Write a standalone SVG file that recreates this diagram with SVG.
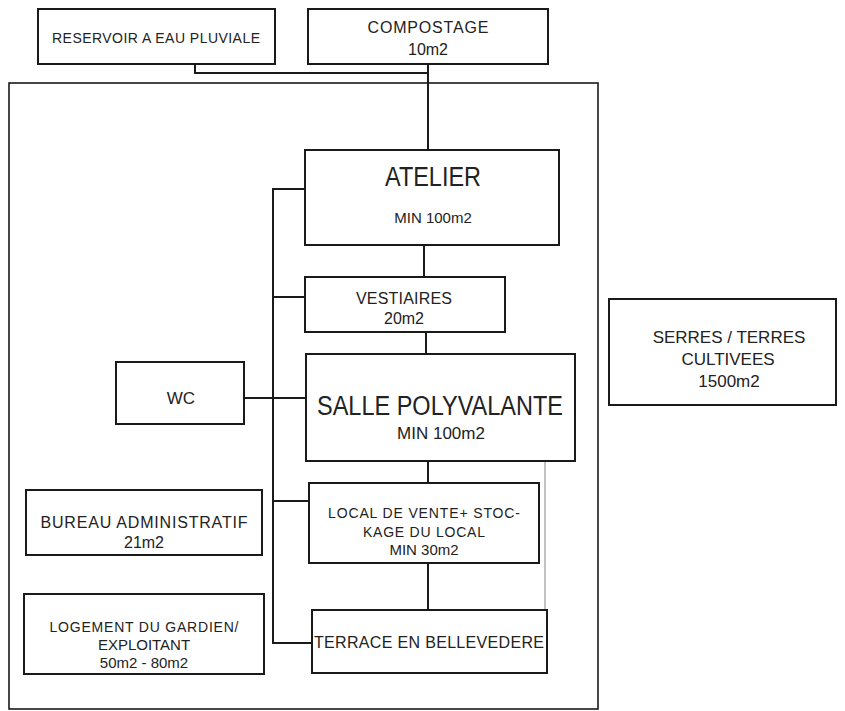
<svg xmlns="http://www.w3.org/2000/svg" width="845" height="711" viewBox="0 0 845 711">
<style>
.box{fill:#fff;stroke:#1a1a1a;stroke-width:2}
.outer{fill:none;stroke:#1a1a1a;stroke-width:1.6}
.ln{fill:none;stroke:#1a1a1a;stroke-width:2}
.gray{fill:none;stroke:#999;stroke-width:1.2}
text{font-family:"Liberation Sans",Arial,sans-serif;fill:#222;text-anchor:middle}
.s{font-size:14px}
.t{font-size:15px}
.m{font-size:16px}
.g{font-size:17px}
.l{font-size:27px}
</style>
<rect x="0" y="0" width="845" height="711" fill="#fff"/>
<rect class="outer" x="9" y="83" width="589" height="626"/>
<g id="connectors">
<polyline class="ln" points="195,64 195,73 428,73"/>
<line class="ln" x1="428" y1="64" x2="428" y2="150"/>
<polyline class="ln" points="305,189 273,189 273,643 312,643"/>
<line class="ln" x1="273" y1="297" x2="305" y2="297"/>
<line class="ln" x1="244" y1="398" x2="306" y2="398"/>
<line class="ln" x1="273" y1="501" x2="309" y2="501"/>
<line class="ln" x1="424" y1="245" x2="424" y2="277"/>
<line class="ln" x1="426" y1="332" x2="426" y2="354"/>
<line class="ln" x1="428" y1="461" x2="428" y2="483"/>
<line class="ln" x1="428" y1="563" x2="428" y2="610"/>
<line class="gray" x1="545" y1="461" x2="545" y2="610"/>
</g>
<g id="reservoir">
<rect class="box" x="38" y="9" width="237" height="55"/>
<text class="s" x="156" y="43" textLength="208">RESERVOIR A EAU PLUVIALE</text>
</g>
<g id="compostage">
<rect class="box" x="308" y="9" width="240" height="55"/>
<text class="m" x="428" y="33" textLength="121">COMPOSTAGE</text>
<text class="m" x="428" y="55">10m2</text>
</g>
<g id="atelier">
<rect class="box" x="305" y="150" width="254" height="95"/>
<text class="l" x="433" y="186" textLength="96" lengthAdjust="spacingAndGlyphs">ATELIER</text>
<text class="t" x="433" y="223">MIN 100m2</text>
</g>
<g id="vestiaires">
<rect class="box" x="305" y="277" width="200" height="55"/>
<text class="m" x="404" y="304" textLength="96">VESTIAIRES</text>
<text class="m" x="404" y="324">20m2</text>
</g>
<g id="wc">
<rect class="box" x="116" y="362" width="128" height="62"/>
<text class="g" x="181" y="404">WC</text>
</g>
<g id="salle">
<rect class="box" x="306" y="354" width="269" height="107"/>
<text class="l" x="440" y="415" textLength="246" lengthAdjust="spacingAndGlyphs">SALLE POLYVALANTE</text>
<text class="g" x="441" y="439">MIN 100m2</text>
</g>
<g id="local">
<rect class="box" x="309" y="483" width="230" height="80"/>
<text class="s" x="424" y="518" textLength="192">LOCAL DE VENTE+ STOC-</text>
<text class="s" x="424" y="537" textLength="122">KAGE DU LOCAL</text>
<text class="t" x="424" y="555">MIN 30m2</text>
</g>
<g id="terrace">
<rect class="box" x="312" y="610" width="235" height="63"/>
<text class="m" x="429" y="648" textLength="230">TERRACE EN BELLEVEDERE</text>
</g>
<g id="bureau">
<rect class="box" x="26" y="490" width="236" height="65"/>
<text class="m" x="144" y="528" textLength="207">BUREAU ADMINISTRATIF</text>
<text class="m" x="144" y="548">21m2</text>
</g>
<g id="logement">
<rect class="box" x="24" y="594" width="240" height="80"/>
<text class="s" x="144" y="632" textLength="189">LOGEMENT DU GARDIEN/</text>
<text class="t" x="144" y="650">EXPLOITANT</text>
<text class="t" x="144" y="668">50m2 - 80m2</text>
</g>
<g id="serres">
<rect class="box" x="609" y="299" width="227" height="106"/>
<text class="g" x="729" y="343">SERRES / TERRES</text>
<text class="g" x="728" y="365">CULTIVEES</text>
<text class="g" x="729" y="387">1500m2</text>
</g>
</svg>
